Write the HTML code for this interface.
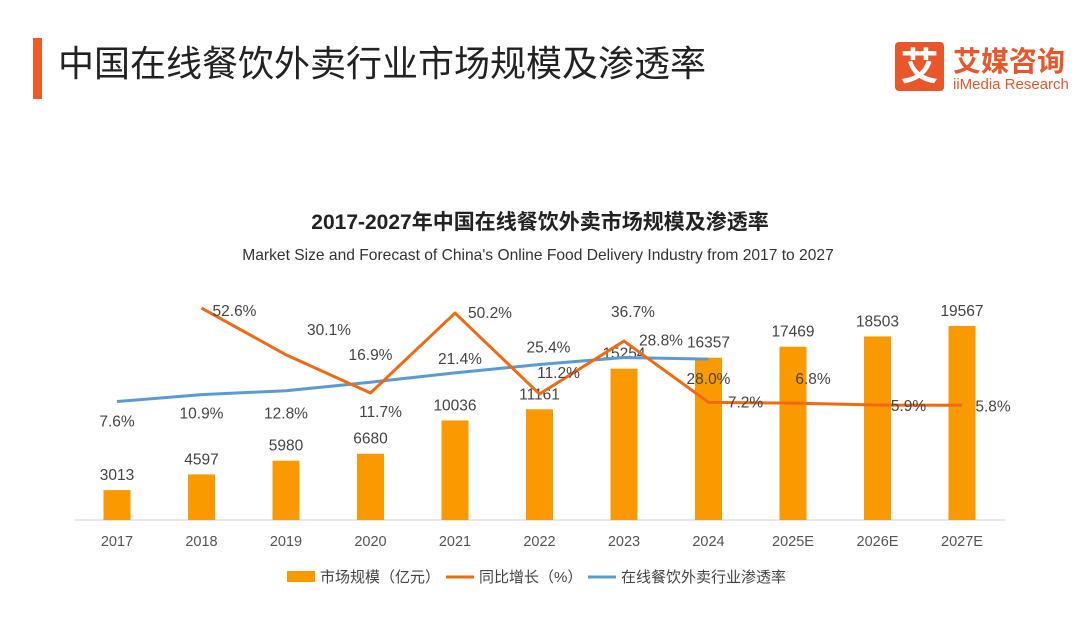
<!DOCTYPE html>
<html><head><meta charset="utf-8"><style>
body{margin:0;background:#fff;width:1080px;height:615px;overflow:hidden;font-family:"Liberation Sans","Noto Sans CJK SC",sans-serif;}
</style></head><body>
<svg width="1080" height="615" xmlns="http://www.w3.org/2000/svg" font-family="Liberation Sans, Noto Sans CJK SC, sans-serif">
<rect x="33" y="38" width="9" height="61" fill="#f15a24"/>
<text x="58" y="76" font-size="36" fill="#222">中国在线餐饮外卖行业市场规模及渗透率</text>
<g>
<rect x="895" y="42" width="49" height="49" rx="4" fill="#e8562a"/>
<text x="919.5" y="80" font-size="38" fill="#fff" text-anchor="middle" font-weight="bold">艾</text>
<text x="953" y="71" font-size="28" fill="#e8562a" font-weight="bold">艾媒咨询</text>
<text x="953" y="89" font-size="15" fill="#e8562a">iiMedia Research</text>
</g>
<text x="540" y="229" font-size="21" font-weight="bold" text-anchor="middle" fill="#222">2017-2027年中国在线餐饮外卖市场规模及渗透率</text>
<text x="538" y="260" font-size="15.6" text-anchor="middle" fill="#333">Market Size and Forecast of China's Online Food Delivery Industry from 2017 to 2027</text>
<g id="plot"></g>
<g font-size="15" fill="#444">
<rect x="287" y="571" width="28" height="11" fill="#fb9a00"/>
<text x="320" y="582">市场规模（亿元）</text>
<line x1="446" y1="577" x2="474" y2="577" stroke="#f26a10" stroke-width="3"/>
<text x="479" y="582">同比增长（%）</text>
<line x1="588" y1="577" x2="616" y2="577" stroke="#5b9bd5" stroke-width="3"/>
<text x="621" y="582">在线餐饮外卖行业渗透率</text>
</g>
</svg>
<script>
const categories=["2017","2018","2019","2020","2021","2022","2023","2024","2025E","2026E","2027E"];
const marketSize=[3013,4597,5980,6680,10036,11161,15254,16357,17469,18503,19567];
const growth=[null,52.6,30.1,11.7,50.2,11.2,36.7,7.2,6.8,5.9,5.8];
const penetration=[7.6,10.9,12.8,16.9,21.4,25.4,28.8,28.0,null,null,null];
const NS="http://www.w3.org/2000/svg";
const g=document.getElementById('plot');
const x=i=>117+i*84.5;
const yB=v=>520-v*0.00992;
const yP=v=>417.3-v*2.077;
function mk(t,a){const e=document.createElementNS(NS,t);for(const k in a)e.setAttribute(k,a[k]);g.appendChild(e);return e;}
const ax=mk('line',{x1:75,y1:520,x2:1005,y2:520,stroke:'#d0d0d0','stroke-width':1});


categories.forEach((c,i)=>{
 const b=mk('rect',{x:x(i)-13.5,y:yB(marketSize[i]),width:27,height:520-yB(marketSize[i]),fill:'#fb9a00'});
 
 
 const t=mk('text',{x:x(i),y:yB(marketSize[i])-10,'font-size':15.5,'text-anchor':'middle',fill:'#444'});
 t.textContent=marketSize[i];
 
 
 const l=mk('text',{x:x(i),y:546,'font-size':14.5,'text-anchor':'middle',fill:'#555'});
 l.textContent=c;
 
 
});
function line(arr,color,name){
 let d='';arr.forEach((v,i)=>{if(v==null)return;d+=(d?'L':'M')+x(i)+','+yP(v);});
 const p=mk('path',{d:d,fill:'none',stroke:color,'stroke-width':3,'stroke-linejoin':'round'});
 
 
}
line(penetration,'#5b9bd5','penetration-line');
line(growth,'#f26a10','growth-line');
const gOff=[null,[33,8],[43,-20],[10,24],[35,5],[19,-16],[9,-24],[37,5],[20,-19],[31,6],[31,6]];
growth.forEach((v,i)=>{if(v==null)return;
 const t=mk('text',{x:x(i)+gOff[i][0],y:yP(v)+gOff[i][1],'font-size':15.5,'text-anchor':'middle',fill:'#444'});
 t.textContent=v.toFixed(1)+'%';
 
 
});
const pOff=[[0,25],[0,24],[0,28],[0,-22],[5,-9],[9,-12],[37,-12],[0,25]];
penetration.forEach((v,i)=>{if(v==null)return;
 const t=mk('text',{x:x(i)+pOff[i][0],y:yP(v)+pOff[i][1],'font-size':15.5,'text-anchor':'middle',fill:'#444'});
 t.textContent=v.toFixed(1)+'%';
 
 
});
</script>
</body></html>
